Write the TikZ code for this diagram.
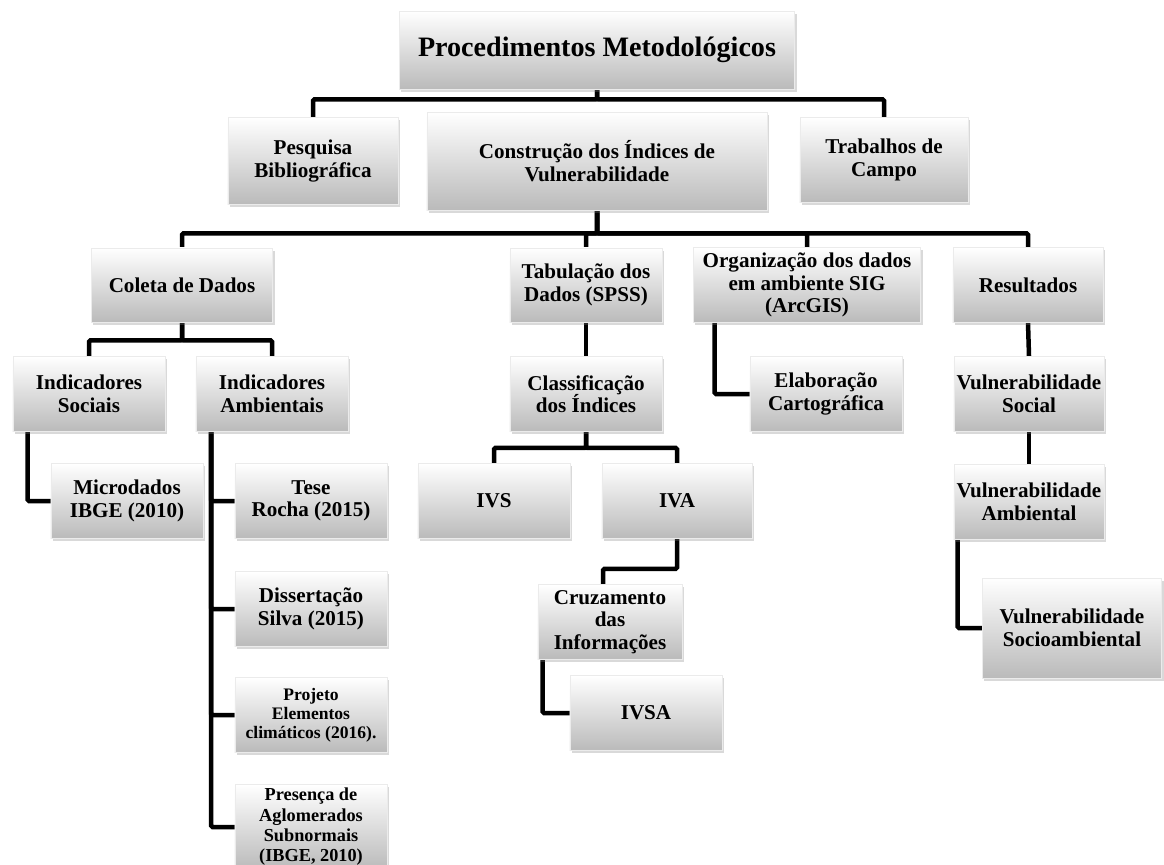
\documentclass[tikz,border=0pt]{standalone}
\usepackage{fontspec}
\setmainfont{Liberation Serif}
\usepackage{tikz}
\usetikzlibrary{shadows}
\pgfdeclarelayer{edgelayer}
\pgfdeclarelayer{nodelayer}
\pgfsetlayers{edgelayer,nodelayer,main}
\tikzset{
	box/.style={shading=axis, top color=white, bottom color=black!27, draw=black!8, line width=0.5pt,
		drop shadow={opacity=0.3, shadow xshift=0.5mm, shadow yshift=-0.7mm},
		align=center, inner sep=0pt, minimum width=3.8cm, minimum height=1.875cm,
		font=\fontsize{15}{16}\selectfont\bfseries},
	smalltext/.style={font=\fontsize{12.5}{13.5}\selectfont\bfseries},
	link/.style={line width=3.2pt, rounded corners=1pt},
}
\begin{document}
\begin{tikzpicture}[x=0.025cm, y=-0.025cm]
	\useasboundingbox (0, 0) rectangle (1164, 864);
	\begin{pgfonlayer}{nodelayer}
		\node [style=box, minimum width=9.875cm, minimum height=1.95cm, font=\fontsize{20}{22}\selectfont\bfseries] (0) at (597, 50) {Procedimentos Metodológicos};
		\node [style=box, minimum width=4.25cm, minimum height=2.175cm] (1) at (313, 161) {Pesquisa\\Bibliográfica};
		\node [style=box, minimum width=8.5cm, minimum height=2.45cm] (2) at (597, 161) {Construção dos Índices de\\Vulnerabilidade};
		\node [style=box, minimum width=4.2cm, minimum height=2.125cm] (3) at (884, 160) {Trabalhos de\\Campo};
		\node [style=box, minimum width=4.525cm, minimum height=1.85cm] (4) at (182, 285) {Coleta de Dados};
		\node [style=box, minimum height=1.85cm] (5) at (586, 285) {Tabulação dos\\Dados (SPSS)};
		\node [style=box, minimum width=5.675cm] (6) at (807, 285) {Organização dos dados\\em ambiente SIG\\(ArcGIS)};
		\node [style=box, minimum width=3.75cm] (7) at (1028, 285) {Resultados};
		\node [style=box] (8) at (89, 394) {Indicadores\\Sociais};
		\node [style=box] (9) at (272, 394) {Indicadores\\Ambientais};
		\node [style=box] (10) at (586, 394) {Classificação\\dos Índices};
		\node [style=box] (11) at (826, 394) {Elaboração\\Cartográfica};
		\node [style=box, minimum width=3.75cm] (12) at (1029, 394) {Vulnerabilidade\\Social};
		\node [style=box] (13) at (127, 501) {Microdados\\IBGE (2010)};
		\node [style=box] (14) at (311, 501) {Tese\\Rocha (2015)};
		\node [style=box] (15) at (494, 501) {IVS};
		\node [style=box, minimum width=3.75cm] (16) at (677, 501) {IVA};
		\node [style=box, minimum width=3.75cm] (17) at (1029, 502) {Vulnerabilidade\\Ambiental};
		\node [style=box] (18) at (311, 609) {Dissertação\\Silva (2015)};
		\node [style=box, minimum width=3.6cm] (19) at (610, 622) {Cruzamento\\das\\Informações};
		\node [style=box, minimum width=4.475cm, minimum height=2.5cm] (20) at (1072, 628) {Vulnerabilidade\\Socioambiental};
		\node [style=box, style=smalltext] (21) at (311, 715) {Projeto\\Elementos\\climáticos (2016).};
		\node [style=box] (22) at (646, 713) {IVSA};
		\node [style=box, font=\fontsize{13}{14.5}\selectfont\bfseries, minimum height=2.125cm] (23) at (311, 827) {Presença de\\Aglomerados\\Subnormais\\(IBGE, 2010)};
	\end{pgfonlayer}
	\begin{pgfonlayer}{edgelayer}
		\draw [style=link] (0.south) -- ++(0, 10) -| (1.north);
		\draw [style=link] (0.south) -- ++(0, 10) -| (3.north);
		\draw [style=link] (2.south) -- ++(0, 23) -| (4.north);
		\draw [style=link] (2.south) -- ++(0, 23) -| (5.north);
		\draw [style=link] (2.south) -- ++(0, 23) -| (6.north);
		\draw [style=link] (2.south) -- ++(0, 23) -| (7.north);
		\draw [style=link] (4.south) -- ++(0, 18) -| (8.north);
		\draw [style=link] (4.south) -- ++(0, 18) -| (9.north);
		\draw [style=link] (5.south) -- (10.north);
		\draw [style=link] ([xshift=0.54cm]6.south west) |- (11.west);
		\draw [style=link] (7.south) -- (12.north);
		\draw [style=link] (12.south) -- (17.north);
		\draw [style=link] ([xshift=0.375cm]8.south west) |- (13.west);
		\draw [style=link] ([xshift=0.39cm]9.south west) |- (14.west);
		\draw [style=link] ([xshift=0.39cm]9.south west) |- (18.west);
		\draw [style=link] ([xshift=0.39cm]9.south west) |- (21.west);
		\draw [style=link] ([xshift=0.39cm]9.south west) |- (23.west);
		\draw [style=link] (10.south) -- ++(0, 16) -| (15.north);
		\draw [style=link] (10.south) -- ++(0, 16) -| (16.north);
		\draw [style=link] (16.south) -- ++(0, 30) -| ([xshift=-0.175cm]19.north);
		\draw [style=link] ([xshift=0.125cm]19.south west) |- (22.west);
		\draw [style=link] ([xshift=0.1cm]17.south west) |- (20.west);
	\end{pgfonlayer}
\end{tikzpicture}
\end{document}
